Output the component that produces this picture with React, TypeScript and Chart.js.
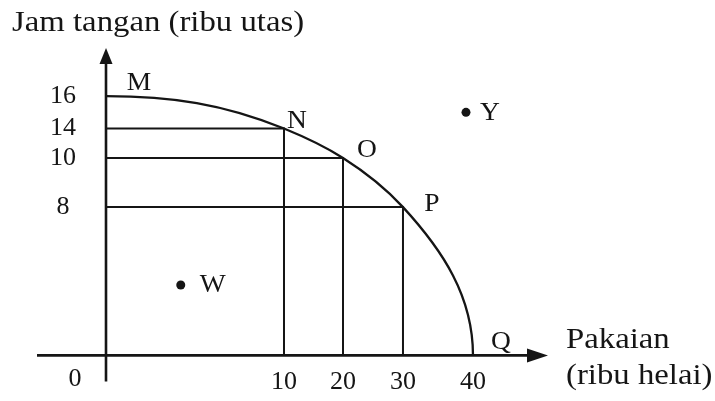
import React, { useEffect, useRef } from 'react';
import { Chart, LinearScale, registerables } from 'chart.js';

// ---------------- data ----------------
const Y_TITLE = 'Jam tangan (ribu utas)';
const X_TITLE = ['Pakaian', '(ribu helai)'];
const ORIGIN_LABEL = '0';

const X_TICKS = [10, 20, 30, 40];
const Y_TICKS = [8, 10, 14, 16];

// production possibility frontier M..Q
const FRONTIER_LABELS = ['M', 'N', 'O', 'P', 'Q'];
const FRONTIER_X = [0, 10, 20, 30, 40]; // Pakaian (ribu helai)
const FRONTIER_Y = [16, 14, 10, 8, 0]; // Jam tangan (ribu utas)

// combinations with guide lines to both axes
const GUIDE_POINTS = ['N', 'O', 'P'];

// points off the frontier
const OTHER_LABELS = ['W', 'Y'];
const OTHER_X = [4.2, 39];
const OTHER_Y = [3.8, 15];

// ---------------- layout / style ----------------
const INK = '#151515';
const SERIF = '"Liberation Serif", "Times New Roman", serif';
const TEXT_STRETCH = 1.13;

// the textbook drawing is not to scale: value -> fraction of axis length
const X_STOPS = [
  [0, 0],
  [10, 0.4027],
  [20, 0.5362],
  [30, 0.6719],
  [40, 0.8303],
  [50, 1],
];
const Y_STOPS = [
  [0, 0],
  [8, 0.4824],
  [10, 0.6422],
  [14, 0.738],
  [16, 0.8435],
  [20, 1],
];
const AXIS_STOPS: Record<string, number[][]> = { x: X_STOPS, y: Y_STOPS };

const LABEL_OFFSET: Record<string, [number, number]> = {
  M: [33, -13],
  N: [13, -7],
  O: [24, -8],
  P: [29, -3],
  Q: [28, -13],
  W: [32, 0],
  Y: [24, 1],
};

function toDecimal(stops: number[][], v: number): number {
  for (let i = 1; i < stops.length; i++) {
    const [a0, f0] = stops[i - 1];
    const [a1, f1] = stops[i];
    if (v <= a1 || i === stops.length - 1) {
      return f0 + ((v - a0) * (f1 - f0)) / (a1 - a0);
    }
  }
  return 1;
}

function fromDecimal(stops: number[][], d: number): number {
  for (let i = 1; i < stops.length; i++) {
    const [a0, f0] = stops[i - 1];
    const [a1, f1] = stops[i];
    if (d <= f1 || i === stops.length - 1) {
      return a0 + ((d - f0) * (a1 - a0)) / (f1 - f0);
    }
  }
  return stops[stops.length - 1][0];
}

class PiecewiseScale extends LinearScale {
  static id = 'piecewise';
  static defaults = {};
  getPixelForValue(value: number) {
    if (value === null || value === undefined || isNaN(value)) return NaN;
    return this.getPixelForDecimal(toDecimal(AXIS_STOPS[this.id], value));
  }
  getValueForPixel(pixel: number) {
    return fromDecimal(AXIS_STOPS[this.id], this.getDecimalForPixel(pixel));
  }
}

Chart.register(...registerables, PiecewiseScale as any);

function stretchedText(
  ctx: CanvasRenderingContext2D,
  text: string,
  x: number,
  y: number,
  size: number,
  align: CanvasTextAlign,
  baseline: CanvasTextBaseline,
  sx: number
) {
  ctx.save();
  ctx.font = `${size}px ${SERIF}`;
  ctx.textAlign = align;
  ctx.textBaseline = baseline;
  ctx.fillStyle = INK;
  ctx.translate(x, y);
  ctx.scale(sx, 1);
  ctx.fillText(text, 0, 0);
  ctx.restore();
}

const ppfPlugin = {
  id: 'ppfDrawing',
  beforeDatasetsDraw(chart: any) {
    const { ctx, chartArea, scales } = chart;
    const x0 = scales.x.getPixelForValue(0);
    const y0 = scales.y.getPixelForValue(0);
    ctx.save();
    ctx.strokeStyle = INK;
    ctx.fillStyle = INK;
    ctx.lineWidth = 2.6;
    ctx.lineCap = 'butt';
    // x axis
    ctx.beginPath();
    ctx.moveTo(x0 - 69, y0);
    ctx.lineTo(chartArea.right - 12, y0);
    ctx.stroke();
    ctx.beginPath();
    ctx.moveTo(chartArea.right, y0);
    ctx.lineTo(chartArea.right - 21, y0 - 7);
    ctx.lineTo(chartArea.right - 21, y0 + 7);
    ctx.closePath();
    ctx.fill();
    // y axis
    ctx.beginPath();
    ctx.moveTo(x0, y0 + 26);
    ctx.lineTo(x0, chartArea.top + 10);
    ctx.stroke();
    ctx.beginPath();
    ctx.moveTo(x0, chartArea.top);
    ctx.lineTo(x0 - 6.5, chartArea.top + 16);
    ctx.lineTo(x0 + 6.5, chartArea.top + 16);
    ctx.closePath();
    ctx.fill();
    ctx.restore();
  },
  afterDatasetsDraw(chart: any) {
    const { ctx, scales } = chart;
    // frontier curve through the dataset's own points
    const meta = chart.getDatasetMeta(0);
    const pts = meta.data.map((p: any) => ({ x: p.x, y: p.y }));
    const n = pts.length;
    const unit = (dx: number, dy: number) => {
      const l = Math.hypot(dx, dy) || 1;
      return [dx / l, dy / l];
    };
    // tangent of the circle through neighbouring points
    const tan = pts.map((p: any, i: number) => {
      if (i === 0) return [1, 0];
      if (i === n - 1) return [0, 1];
      const a = pts[i - 1];
      const c = pts[i + 1];
      const l1 = Math.hypot(p.x - a.x, p.y - a.y);
      const l2 = Math.hypot(c.x - p.x, c.y - p.y);
      const u1 = unit(p.x - a.x, p.y - a.y);
      const u2 = unit(c.x - p.x, c.y - p.y);
      return unit(l2 * u1[0] + l1 * u2[0], l2 * u1[1] + l1 * u2[1]);
    });
    ctx.save();
    ctx.strokeStyle = INK;
    ctx.lineWidth = 2.3;
    ctx.beginPath();
    ctx.moveTo(pts[0].x, pts[0].y);
    for (let i = 0; i < n - 1; i++) {
      const p = pts[i];
      const q = pts[i + 1];
      const k = Math.hypot(q.x - p.x, q.y - p.y) * 0.36;
      ctx.bezierCurveTo(
        p.x + tan[i][0] * k,
        p.y + tan[i][1] * k,
        q.x - tan[i + 1][0] * k,
        q.y - tan[i + 1][1] * k,
        q.x,
        q.y
      );
    }
    ctx.stroke();
    ctx.restore();

    // point letters
    const letter = (name: string, px: number, py: number) => {
      const off = LABEL_OFFSET[name] || [14, -10];
      stretchedText(ctx, name, px + off[0], py + off[1], 25, 'center', 'middle', 1.1);
    };
    pts.forEach((p: any, i: number) => letter(FRONTIER_LABELS[i], p.x, p.y));
    const otherMeta = chart.getDatasetMeta(chart.data.datasets.length - 1);
    otherMeta.data.forEach((p: any, i: number) => letter(OTHER_LABELS[i], p.x, p.y));

    // axis titles and origin
    const x0 = scales.x.getPixelForValue(0);
    const y0 = scales.y.getPixelForValue(0);
    stretchedText(ctx, Y_TITLE, 12, 31, 29, 'left', 'alphabetic', TEXT_STRETCH);
    const right = chart.chartArea.right;
    stretchedText(ctx, X_TITLE[0], right + 18, y0 - 7, 29, 'left', 'alphabetic', TEXT_STRETCH);
    stretchedText(ctx, X_TITLE[1], right + 18, y0 + 29, 29, 'left', 'alphabetic', TEXT_STRETCH);
    stretchedText(ctx, ORIGIN_LABEL, x0 - 31, y0 + 24, 26, 'center', 'middle', 1);
  },
};

export default function App() {
  const canvasRef = useRef<HTMLCanvasElement | null>(null);

  useEffect(() => {
    const canvas = canvasRef.current;
    if (!canvas) return;

    const frontier = FRONTIER_X.map((x, i) => ({ x, y: FRONTIER_Y[i] }));
    const guides = GUIDE_POINTS.map((name) => {
      const i = FRONTIER_LABELS.indexOf(name);
      const x = FRONTIER_X[i];
      const y = FRONTIER_Y[i];
      return {
        label: 'guide ' + name,
        data: [
          { x: 0, y },
          { x, y },
          { x, y: 0 },
        ],
        showLine: true,
        borderColor: INK,
        borderWidth: 2,
        pointRadius: 0,
        tension: 0,
        clip: false as any,
      };
    });

    const chart = new Chart(canvas, {
      type: 'scatter',
      data: {
        datasets: [
          {
            label: 'frontier',
            data: frontier,
            showLine: false,
            pointRadius: 0,
            clip: false as any,
          },
          ...guides,
          {
            label: 'other',
            data: OTHER_X.map((x, i) => ({ x, y: OTHER_Y[i] })),
            pointRadius: 4.5,
            pointBackgroundColor: INK,
            pointBorderWidth: 0,
            clip: false as any,
          },
        ] as any,
      },
      options: {
        animation: false,
        responsive: false,
        maintainAspectRatio: false,
        layout: { padding: { top: 48, right: 167, bottom: 0, left: 0 } },
        plugins: {
          legend: { display: false },
          tooltip: { enabled: false },
        },
        scales: {
          x: {
            type: 'piecewise' as any,
            min: 0,
            max: 50,
            grid: { display: false, drawTicks: false },
            border: { display: false },
            afterBuildTicks: (s: any) => {
              s.ticks = X_TICKS.map((v) => ({ value: v }));
            },
            afterFit: (s: any) => {
              s.height = 40;
            },
            ticks: {
              autoSkip: false,
              maxRotation: 0,
              minRotation: 0,
              padding: 11,
              color: INK,
              font: { family: SERIF, size: 26 },
              callback: (v: any) => String(v),
            },
          },
          y: {
            type: 'piecewise' as any,
            min: 0,
            max: 20,
            grid: { display: false, drawTicks: false },
            border: { display: false },
            afterBuildTicks: (s: any) => {
              s.ticks = Y_TICKS.map((v) => ({ value: v }));
            },
            afterFit: (s: any) => {
              s.width = 106;
            },
            ticks: {
              autoSkip: false,
              crossAlign: 'center',
              padding: 30,
              color: INK,
              font: { family: SERIF, size: 26 },
              callback: (v: any) => String(v),
            },
          },
        } as any,
      },
      plugins: [ppfPlugin],
    });

    return () => chart.destroy();
  }, []);

  return (
    <div
      style={{
        position: 'absolute',
        left: 0,
        top: 0,
        width: 715,
        height: 401,
        background: '#ffffff',
      }}
    >
      <canvas ref={canvasRef} width={715} height={401} />
    </div>
  );
}
